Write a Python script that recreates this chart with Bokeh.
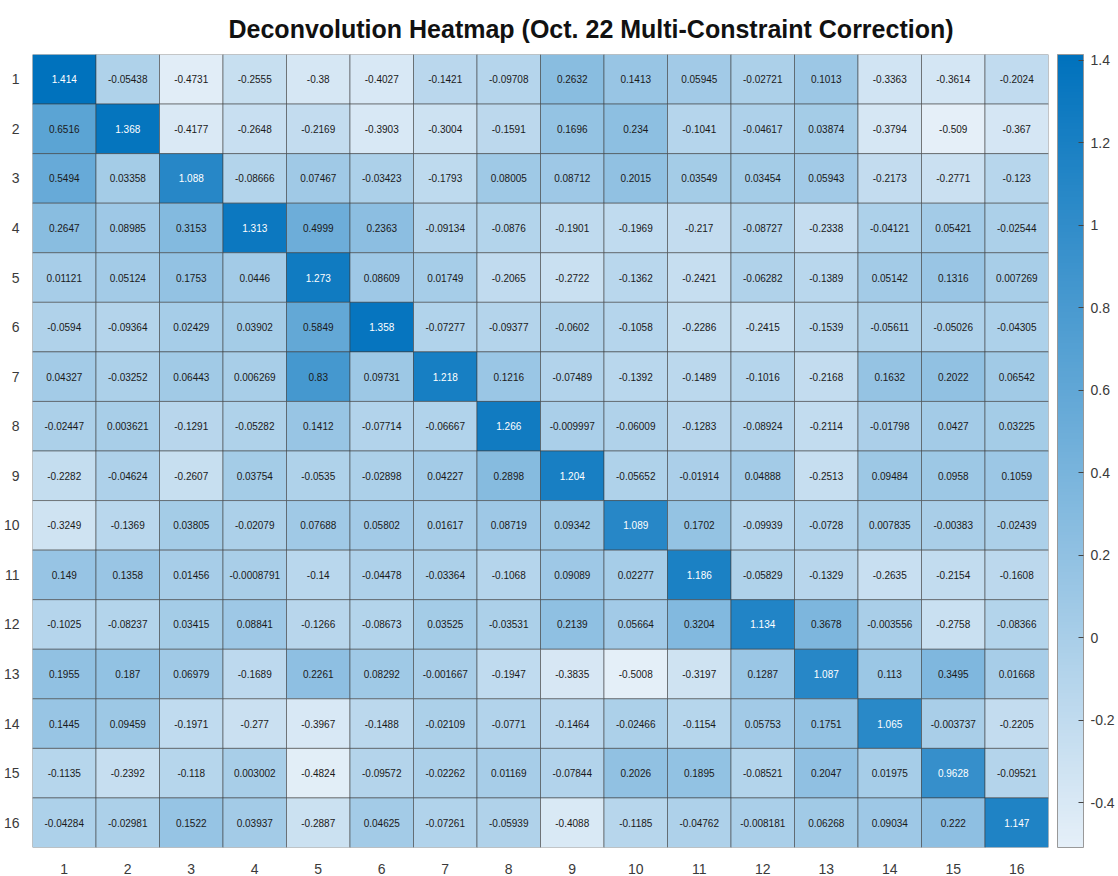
from bokeh.plotting import figure
from bokeh.models import (ColumnDataSource, LinearColorMapper, ColorBar, FixedTicker,
                          PrintfTickFormatter, Range1d, Title)
from bokeh.core.properties import value
from bokeh.embed import file_html
from bokeh.resources import INLINE

title_text = "Deconvolution Heatmap (Oct. 22 Multi-Constraint Correction)"
row_labels = [str(i) for i in range(1, 17)]
col_labels = [str(i) for i in range(1, 17)]

r01 = [1.414, -0.05438, -0.4731, -0.2555, -0.38, -0.4027, -0.1421, -0.09708, 0.2632, 0.1413, 0.05945, -0.02721, 0.1013, -0.3363, -0.3614, -0.2024]
r02 = [0.6516, 1.368, -0.4177, -0.2648, -0.2169, -0.3903, -0.3004, -0.1591, 0.1696, 0.234, -0.1041, -0.04617, 0.03874, -0.3794, -0.509, -0.367]
r03 = [0.5494, 0.03358, 1.088, -0.08666, 0.07467, -0.03423, -0.1793, 0.08005, 0.08712, 0.2015, 0.03549, 0.03454, 0.05943, -0.2173, -0.2771, -0.123]
r04 = [0.2647, 0.08985, 0.3153, 1.313, 0.4999, 0.2363, -0.09134, -0.0876, -0.1901, -0.1969, -0.217, -0.08727, -0.2338, -0.04121, 0.05421, -0.02544]
r05 = [0.01121, 0.05124, 0.1753, 0.0446, 1.273, 0.08609, 0.01749, -0.2065, -0.2722, -0.1362, -0.2421, -0.06282, -0.1389, 0.05142, 0.1316, 0.007269]
r06 = [-0.0594, -0.09364, 0.02429, 0.03902, 0.5849, 1.358, -0.07277, -0.09377, -0.0602, -0.1058, -0.2286, -0.2415, -0.1539, -0.05611, -0.05026, -0.04305]
r07 = [0.04327, -0.03252, 0.06443, 0.006269, 0.83, 0.09731, 1.218, 0.1216, -0.07489, -0.1392, -0.1489, -0.1016, -0.2168, 0.1632, 0.2022, 0.06542]
r08 = [-0.02447, 0.003621, -0.1291, -0.05282, 0.1412, -0.07714, -0.06667, 1.266, -0.009997, -0.06009, -0.1283, -0.08924, -0.2114, -0.01798, 0.0427, 0.03225]
r09 = [-0.2282, -0.04624, -0.2607, 0.03754, -0.0535, -0.02898, 0.04227, 0.2898, 1.204, -0.05652, -0.01914, 0.04888, -0.2513, 0.09484, 0.0958, 0.1059]
r10 = [-0.3249, -0.1369, 0.03805, -0.02079, 0.07688, 0.05802, 0.01617, 0.08719, 0.09342, 1.089, 0.1702, -0.09939, -0.0728, 0.007835, -0.00383, -0.02439]
r11 = [0.149, 0.1358, 0.01456, -0.0008791, -0.14, -0.04478, -0.03364, -0.1068, 0.09089, 0.02277, 1.186, -0.05829, -0.1329, -0.2635, -0.2154, -0.1608]
r12 = [-0.1025, -0.08237, 0.03415, 0.08841, -0.1266, -0.08673, 0.03525, -0.03531, 0.2139, 0.05664, 0.3204, 1.134, 0.3678, -0.003556, -0.2758, -0.08366]
r13 = [0.1955, 0.187, 0.06979, -0.1689, 0.2261, 0.08292, -0.001667, -0.1947, -0.3835, -0.5008, -0.3197, 0.1287, 1.087, 0.113, 0.3495, 0.01668]
r14 = [0.1445, 0.09459, -0.1971, -0.277, -0.3967, -0.1488, -0.02109, -0.0771, -0.1464, -0.02466, -0.1154, 0.05753, 0.1751, 1.065, -0.003737, -0.2205]
r15 = [-0.1135, -0.2392, -0.118, 0.003002, -0.4824, -0.09572, -0.02262, 0.01169, -0.07844, 0.2026, 0.1895, -0.08521, 0.2047, 0.01975, 0.9628, -0.09521]
r16 = [-0.04284, -0.02981, 0.1522, 0.03937, -0.2887, 0.04625, -0.07261, -0.05939, -0.4088, -0.1185, -0.04762, -0.008181, 0.06268, 0.09034, 0.222, 1.147]
rows = [r01, r02, r03, r04, r05, r06, r07, r08, r09, r10, r11, r12, r13, r14, r15, r16]
cbar_ticks = [-0.4, -0.2, 0, 0.2, 0.4, 0.6, 0.8, 1.0, 1.2, 1.4]

# colormap: light blue-white to MATLAB blue
lo_rgb = (229, 239, 248)
hi_rgb = (0, 114, 189)
n = 256
palette = []
for i in range(n):
    t = i / (n - 1)
    c = [round(lo_rgb[k] + (hi_rgb[k] - lo_rgb[k]) * t) for k in range(3)]
    palette.append("#%02x%02x%02x" % tuple(c))

flat = [v for r in rows for v in r]
vmin, vmax = min(flat), max(flat)
mapper = LinearColorMapper(palette=palette, low=vmin, high=vmax)

xs, ys, vals, labels, tcolors = [], [], [], [], []
for ri, r in enumerate(rows):
    for ci, v in enumerate(r):
        xs.append(ci + 1)
        ys.append(ri + 1)
        vals.append(v)
        labels.append("%.4g" % v)
        tcolors.append("#ffffff" if v > 0.9 else "#1a1a1a")

src = ColumnDataSource(dict(x=xs, y=ys, v=vals, label=labels, tc=tcolors))

p = figure(width=1118, height=876, output_backend="svg", toolbar_location=None,
           x_range=Range1d(0.5, 16.5), y_range=Range1d(16.5, 0.5),
           min_border_left=30, min_border_right=70, min_border_top=54, min_border_bottom=26)
p.background_fill_color = "white"
p.border_fill_color = "white"
p.outline_line_color = None
p.xgrid.visible = False
p.ygrid.visible = False

p.rect(x="x", y="y", width=1, height=1, source=src,
       fill_color={"field": "v", "transform": mapper},
       line_color="#3a3a3a", line_alpha=0.55, line_width=1)
p.text(x="x", y="y", text="label", source=src, text_align="center", text_baseline="middle",
       text_font_size="10px", text_color="tc", text_font=value("Liberation Sans"))

for ax, labs in ((p.xaxis[0], col_labels), (p.yaxis[0], row_labels)):
    ax.ticker = FixedTicker(ticks=list(range(1, 17)))
    ax.major_label_overrides = {i + 1: labs[i] for i in range(16)}
    ax.major_tick_line_color = None
    ax.minor_tick_line_color = None
    ax.axis_line_color = None
    ax.major_label_text_font_size = "14px"
    ax.major_label_text_color = "#3a3a3a"
    ax.major_label_text_font = "Liberation Sans"
p.xaxis.major_label_standoff = 10
p.yaxis.major_label_standoff = 7

cb = ColorBar(color_mapper=mapper, width=26, padding=0, margin=0,
              ticker=FixedTicker(ticks=cbar_ticks),
              formatter=PrintfTickFormatter(format="%.4g"),
              major_tick_line_color="#444444", major_tick_in=5, major_tick_out=0,
              minor_tick_line_color=None,
              bar_line_color="#999999", border_line_color=None,
              background_fill_color=None,
              major_label_text_font_size="14px", major_label_text_color="#3a3a3a",
              major_label_text_font="Liberation Sans", label_standoff=7,
              location=(9, 0))
p.add_layout(cb, "right")

p.title = Title(text=title_text, align="left", offset=196, standoff=23,
                text_font_size="25px", text_font_style="bold",
                text_font="Liberation Sans", text_color="#111111")

open("out.html", "w").write(file_html(p, INLINE))
